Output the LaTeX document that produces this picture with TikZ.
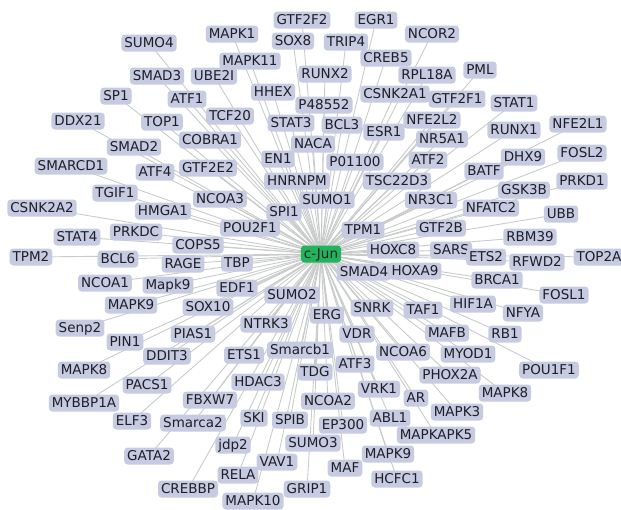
\documentclass[tikz,border=0pt]{standalone}
\usepackage{fontspec}
\setmainfont{DejaVu Sans}
\definecolor{boxfill}{HTML}{C6CBE2}
\definecolor{edgecol}{HTML}{C9CBCB}
\definecolor{labtext}{HTML}{1E1E26}
\definecolor{hubfill}{HTML}{22B35C}
\pgfdeclarelayer{background}
\pgfsetlayers{background,main}
\tikzset{
  lab/.style={fill=boxfill, rounded corners=3.5pt, text=labtext,
    font=\fontsize{13.5}{15}\selectfont, inner xsep=3pt, inner ysep=0pt,
    text height=9.8pt, text depth=0pt, minimum height=17pt},
  hub/.style={lab, fill=hubfill, text=black!85},
  edge/.style={draw=edgecol, line width=0.9pt}
}
\begin{document}
\begin{tikzpicture}[x=1pt,y=-1pt]
\useasboundingbox (0,0) rectangle (621,509);
\clip (0,0) rectangle (621,509);
\node[hub] (cjun) at (321,254) {c-Jun};
\foreach \n/\x/\y/\t in {
SUMO4/149/43/SUMO4, SMAD3/157/76/SMAD3, SP1/116/96/SP1, ATF1/187/99/ATF1,
DDX21/78/121/DDX21, TOP1/162/122/TOP1, SMAD2/134/147/SMAD2, SMARCD1/71/166/SMARCD1,
COBRA1/210/140/COBRA1, UBE2I/214/76/UBE2I, TCF20/230/116/TCF20, MAPK1/232/34/MAPK1,
MAPK11/250/61/MAPK11, GTF2F2/302/20/GTF2F2, SOX8/293/41/SOX8, EGR1/376/20/EGR1,
TRIP4/346/42/TRIP4, CREB5/386/58/CREB5, RUNX2/325/74/RUNX2, HHEX/273/92/HHEX,
CSNK2A1/395/94/CSNK2A1, P48552/324/105/P48552, STAT3/291/123/STAT3, BCL3/342/125/BCL3,
ESR1/384/132/ESR1, NACA/313/144/NACA, EN1/278/159/EN1, P01100/355/162/P01100,
GTF2E2/208/168/GTF2E2, RPL18A/427/75/RPL18A, NCOR2/432/34/NCOR2, PML/480/70/PML,
GTF2F1/457/99/GTF2F1, STAT1/514/103/STAT1, NFE2L2/432/120/NFE2L2, NR5A1/442/139/NR5A1,
RUNX1/514/130/RUNX1, NFE2L1/578/124/NFE2L1, ATF2/428/160/ATF2, DHX9/523/157/DHX9,
FOSL2/582/153/FOSL2, BATF/484/171/BATF, TSC22D3/397/181/TSC22D3, NR3C1/431/200/NR3C1,
GSK3B/524/190/GSK3B, PRKD1/582/181/PRKD1, NFATC2/491/208/NFATC2, UBB/561/214/UBB,
GTF2B/441/228/GTF2B, RBM39/530/237/RBM39, TOP2A/599/257/TOP2A, SARS/451/250/SARS,
ETS2/486/257/ETS2, RFWD2/537/262/RFWD2, HOXC8/393/250/HOXC8, HOXA9/415/271/HOXA9,
SMAD4/364/272/SMAD4, BRCA1/497/280/BRCA1, FOSL1/564/295/FOSL1, HIF1A/473/304/HIF1A,
NFYA/523/313/NFYA, TAF1/423/310/TAF1, MAFB/447/333/MAFB, RB1/505/334/RB1,
TPM1/363/230/TPM1, SUMO1/327/200/SUMO1, HNRNPM/297/181/HNRNPM, NCOA3/220/199/NCOA3,
SPI1/284/212/SPI1, POU2F1/250/228/POU2F1, COPS5/198/245/COPS5, TBP/237/263/TBP,
RAGE/183/264/RAGE, EDF1/237/288/EDF1, SUMO2/292/295/SUMO2, SOX10/208/307/SOX10,
NTRK3/266/324/NTRK3, ERG/327/315/ERG, SNRK/372/308/SNRK, VDR/357/334/VDR,
NCOA6/403/352/NCOA6, ATF3/355/364/ATF3, Smarcb1/300/350/Smarcb1, ETS1/244/355/ETS1,
TDG/315/372/TDG, HDAC3/258/382/HDAC3, VRK1/379/389/VRK1, AR/416/398/AR,
NCOA2/328/401/NCOA2, FBXW7/210/400/FBXW7, SKI/254/418/SKI, SPIB/290/420/SPIB,
ABL1/390/418/ABL1, EP300/343/425/EP300, Smarca2/193/423/Smarca2, MAPKAPK5/436/435/MAPKAPK5,
MAPK3/457/412/MAPK3, PHOX2A/450/375/PHOX2A, MYOD1/468/354/MYOD1, POU1F1/549/370/POU1F1,
MAPK8b/505/393/MAPK8, MAPK9b/388/454/MAPK9, jdp2/233/445/jdp2, SUMO3/313/443/SUMO3,
VAV1/277/462/VAV1, MAF/345/468/MAF, HCFC1/397/479/HCFC1, RELA/238/475/RELA,
GRIP1/307/489/GRIP1, MAPK10/253/501/MAPK10, CREBBP/188/489/CREBBP, GATA2/149/456/GATA2,
ELF3/132/421/ELF3, MYBBP1A/84/403/MYBBP1A, PACS1/147/385/PACS1, DDIT3/167/356/DDIT3,
MAPK8a/84/370/MAPK8, PIN1/125/342/PIN1, PIAS1/193/334/PIAS1, Senp2/80/328/Senp2,
MAPK9a/131/305/MAPK9, Mapk9/168/285/Mapk9, NCOA1/105/283/NCOA1, BCL6/118/259/BCL6,
TPM2/31/257/TPM2, STAT4/77/237/STAT4, PRKDC/136/232/PRKDC, CSNK2A2/42/208/CSNK2A2,
HMGA1/163/211/HMGA1, TGIF1/115/193/TGIF1, ATF4/155/172/ATF4}{
  \node[lab] (\n) at (\x,\y) {\t};
  \begin{pgfonlayer}{background}
    \draw[edge] (cjun.center) -- (\n.center);
  \end{pgfonlayer}
}
\end{tikzpicture}
\end{document}
